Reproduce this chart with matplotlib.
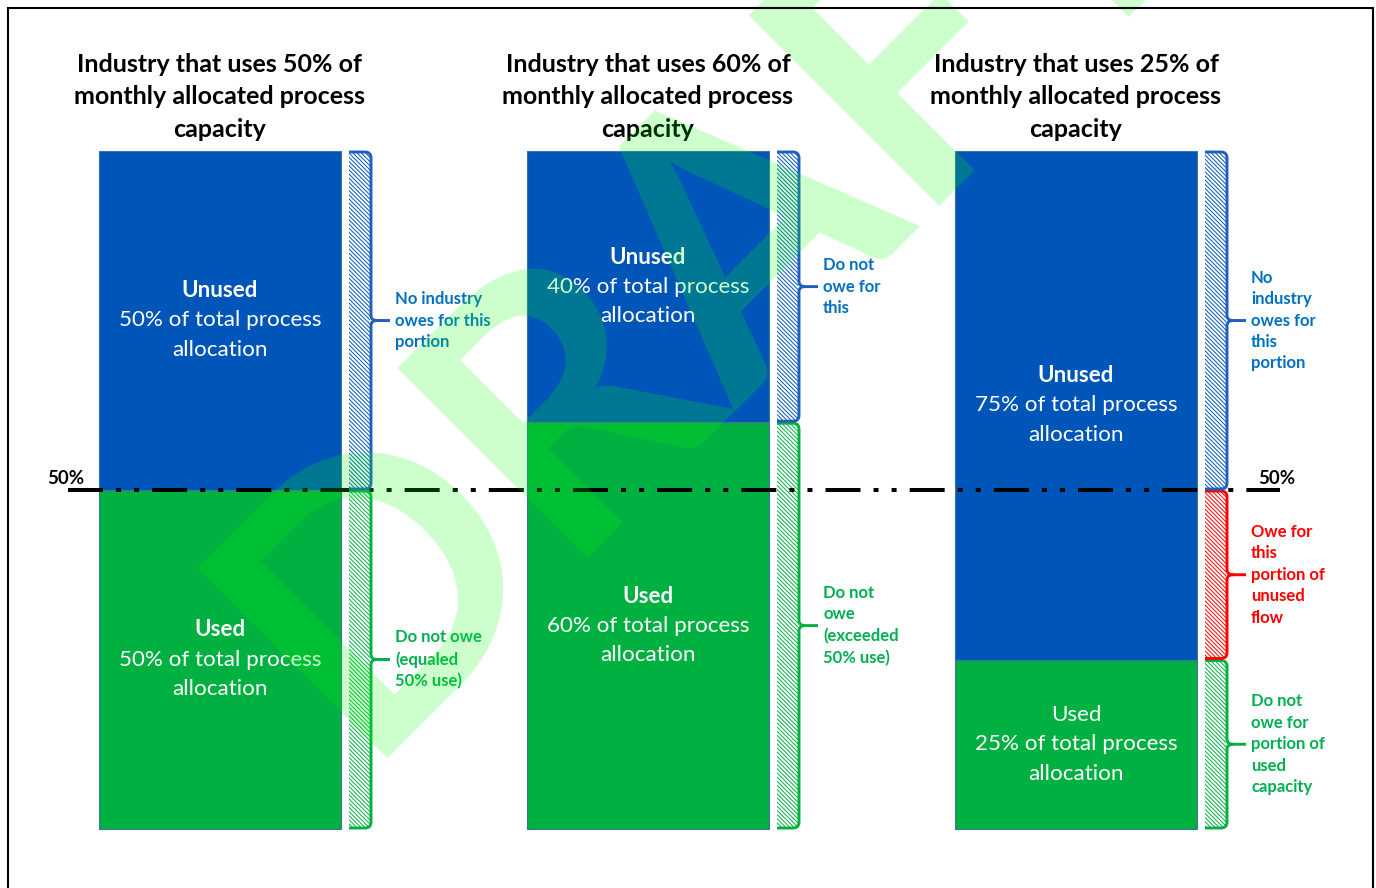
import matplotlib
matplotlib.use("Agg")
import matplotlib.pyplot as plt
from matplotlib.path import Path
from matplotlib.patches import PathPatch, Rectangle
from matplotlib.transforms import IdentityTransform

plt.rcParams['font.family'] = ['Lato', 'DejaVu Sans']
plt.rcParams['hatch.linewidth'] = 0.7
plt.rcParams['lines.scale_dashes'] = False

# ---------------- data ----------------
titles = ["Industry that uses 50% of\nmonthly allocated process\ncapacity",
          "Industry that uses 60% of\nmonthly allocated process\ncapacity",
          "Industry that uses 25% of\nmonthly allocated process\ncapacity"]
used_pct = [50, 60, 25]
unused_pct = [50, 40, 75]
threshold = 50
used_head_bold = [True, True, False]
unused_notes = ["No industry\nowes for this\nportion",
                "Do not\nowe for\nthis",
                "No\nindustry\nowes for\nthis\nportion"]
used_notes = ["Do not owe\n(equaled\n50% use)",
              "Do not\nowe\n(exceeded\n50% use)",
              "Do not\nowe for\nportion of\nused\ncapacity"]
owe_note = "Owe for\nthis\nportion of\nunused\nflow"
threshold_label = "50%"
watermark = "DRAFT"

# ---------------- style ----------------
BLUE = "#0056B8"
GREEN = "#00B040"
EDGE = "#41719C"
NOTE_BLUE = "#0070C0"
NOTE_GREEN = "#00B050"
RED = "#FF0000"

W, H, DPI = 1376, 888, 100
fig = plt.figure(figsize=(W / DPI, H / DPI), dpi=DPI)
ax = fig.add_axes([0, 0, 1, 1])
ax.axis('off')

# layout: x unit = 428 px, first bar centred at 220 px; y: 0% at 829 px from top, 100% at 151
XU, X0 = 428.0, 220.0
YB, YT = 829.0, 151.0
YU = (YB - YT) / 100.0
ax.set_xlim(-X0 / XU, (W - X0) / XU)
ax.set_ylim(-(H - YB) / YU, (YB) / YU)

def px(v):  # pixel length -> x data units
    return v / XU

xs = list(range(len(used_pct)))
bw = px(242)

ax.bar(xs, used_pct, width=bw, color=GREEN, edgecolor=EDGE, linewidth=0.8, zorder=2)
ax.bar(xs, unused_pct, bottom=used_pct, width=bw, color=BLUE, edgecolor=EDGE, linewidth=0.8, zorder=2)

# hatched strips
s_off, s_w = px(129), px(21)
HATCH = '\\' * 8
GAP = 1.2 / YU

def strip(x, lo, hi, col):
    ax.bar(x + s_off, hi - lo - 2 * GAP, bottom=lo + GAP, width=s_w, align='edge', color='white',
           edgecolor=col, linewidth=0, hatch=HATCH, zorder=2)

fig.canvas.draw()
T = ax.transData

def brace(x, lo, hi, col):
    xl, ylo = T.transform((x + s_off, lo))
    xr, yhi = T.transform((x + s_off + s_w, hi))
    xr += 1
    yhi -= 1
    ylo += 1
    mid = (ylo + yhi) / 2
    r = 6
    tip = xr + 19
    verts = [(xl, yhi), (xr - r, yhi), (xr, yhi), (xr, yhi - r),
             (xr, mid + 5), (xr, mid), (xr + 6, mid), (tip, mid),
             (xr + 6, mid), (xr, mid), (xr, mid - 5),
             (xr, ylo + r), (xr, ylo), (xr - r, ylo), (xl, ylo)]
    codes = [Path.MOVETO, Path.LINETO, Path.CURVE3, Path.CURVE3,
             Path.LINETO, Path.CURVE3, Path.CURVE3, Path.LINETO,
             Path.MOVETO, Path.CURVE3, Path.CURVE3,
             Path.LINETO, Path.CURVE3, Path.CURVE3, Path.LINETO]
    ax.add_patch(PathPatch(Path(verts, codes), transform=IdentityTransform(),
                           facecolor='none', edgecolor=col, linewidth=2.1,
                           capstyle='butt', joinstyle='round', zorder=4))

def note(x, lo, hi, text, col):
    mid = (lo + hi) / 2
    ax.text(x + s_off + s_w + px(25), mid, text, color=col, fontsize=12.0,
            fontweight='bold', ha='left', va='center', linespacing=1.42, zorder=5)

for i, (u, un) in enumerate(zip(used_pct, unused_pct)):
    top = u + un
    if u >= threshold:
        segs = [(0, u, GREEN, NOTE_GREEN, used_notes[i]), (u, top, BLUE, NOTE_BLUE, unused_notes[i])]
    else:
        segs = [(0, u, GREEN, NOTE_GREEN, used_notes[i]),
                (u, threshold, RED, RED, owe_note),
                (threshold, top, BLUE, NOTE_BLUE, unused_notes[i])]
    for lo, hi, c, tc, txt in segs:
        strip(i, lo, hi, c)
        brace(i, lo, hi, c if c != BLUE else "#1F5FBF")
        note(i, lo, hi, txt, tc)

# bar labels
LS = 21.3  # line step in points
def bar_label(x, lo, hi, head, pct, bold_head):
    mid = (lo + hi) / 2
    kw = dict(color='white', fontsize=16.1, ha='center', va='center', zorder=5,
              textcoords='offset points')
    ax.annotate(head, (x, mid), xytext=(0, LS), fontweight='bold' if bold_head else 'normal', **kw)
    ax.annotate(f"{pct}% of total process", (x, mid), xytext=(0, 0), **kw)
    ax.annotate("allocation", (x, mid), xytext=(0, -LS), **kw)

for i, (u, un) in enumerate(zip(used_pct, unused_pct)):
    bar_label(i, 0, u, "Used", u, used_head_bold[i])
    bar_label(i, u, u + un, "Unused", un, True)
    ax.text(i, 100 + 54 / YU, titles[i], ha='center', va='center', fontsize=18,
            fontweight='bold', color='black', linespacing=1.5, zorder=5)

# threshold line
line, = ax.plot([px(68 - X0), px(1280 - X0)], [threshold, threshold], color='black',
                linewidth=2.9, zorder=3, solid_capstyle='butt', dash_capstyle='butt')
line.set_dashes([25.2, 9.4, 3.6, 9.4, 3.6, 9.4])
ax.text(px(47 - X0), threshold + 3 / YU, threshold_label, ha='left', va='bottom',
        fontsize=13.5, fontweight='bold', zorder=5)
ax.text(px(1258 - X0), threshold + 3 / YU, threshold_label, ha='left', va='bottom',
        fontsize=13.5, fontweight='bold', zorder=5)

# frame
fig.add_artist(Rectangle((8 / W, -0.01), (1373 - 8) / W, (H - 8) / H + 0.01,
                         transform=fig.transFigure, fill=False, edgecolor='black',
                         linewidth=1.5, zorder=1))

# watermark
ax.text(px(712 - X0), (YB - 252) / YU, watermark, rotation=45, rotation_mode='anchor',
        ha='center', va='center', fontsize=268, fontweight='bold',
        color=(0, 1, 0), alpha=0.2, zorder=10)

fig.savefig("out.png", dpi=DPI)
